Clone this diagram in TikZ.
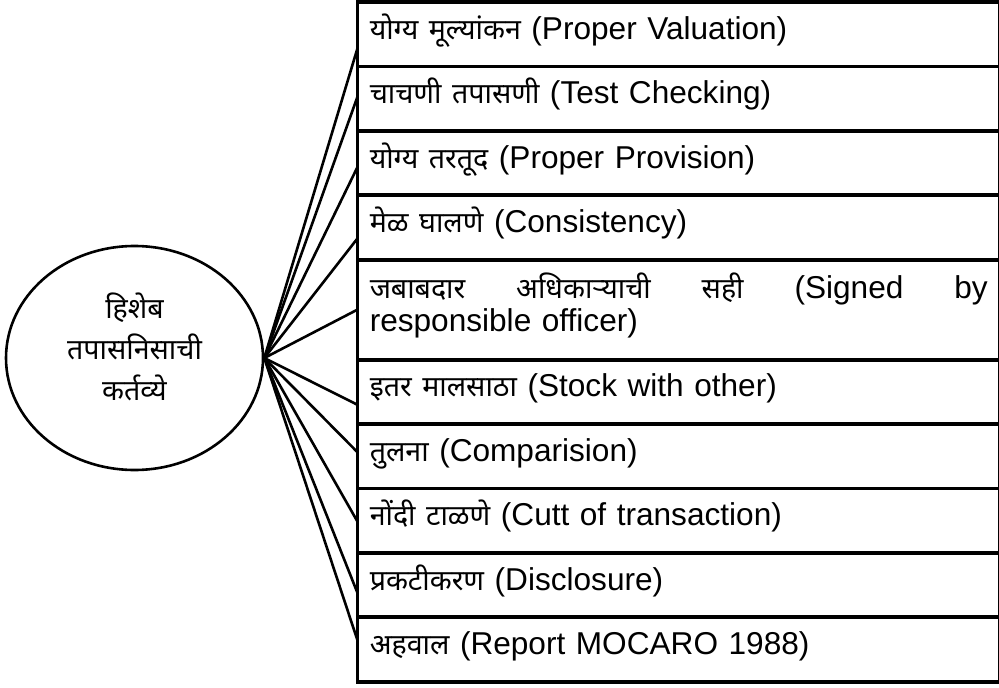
\documentclass[tikz,border=0pt]{standalone}
\usepackage{fontspec}
\setmainfont{Liberation Sans}
\newfontfamily\mr[Script=Devanagari, Scale=0.905]{Noto Sans}
\usetikzlibrary{shapes,arrows,positioning}

\begin{document}
\begin{tikzpicture}[x=1pt, y=1pt, node distance=64.4pt, font=\fontsize{31.6}{32.5}\selectfont]

% alakzatok / styles
\tikzstyle{duty} = [rectangle, draw=black, line width=3.8pt, outer sep=0pt, minimum width=642.5pt, minimum height=64.4pt, text width=618pt, inner xsep=12.25pt, align=left, text height=20pt, text depth=10pt]
\tikzstyle{role} = [ellipse, draw=black, line width=2.6pt, minimum width=257pt, minimum height=224pt, inner sep=0pt, text width=170pt, align=center, text height=24pt, text depth=104pt, font=\mr\fontsize{31.6}{41}\selectfont]
\tikzstyle{link} = [line width=2.6pt]

\useasboundingbox (0,0) rectangle (999,-688);

% elemek / nodes
\node (auditor) [role] at (134.5,-358) {हिशेब\\तपासनिसाची\\कर्तव्ये};

\node (valuation) [duty, anchor=north west] at (357.5,-2) {{\mr योग्य मूल्यांकन} (Proper Valuation)};
\node (testing) [duty, below of=valuation] {{\mr चाचणी तपासणी} (Test Checking)};
\node (provision) [duty, below of=testing] {{\mr योग्य तरतूद} (Proper Provision)};
\node (consistency) [duty, below of=provision] {{\mr मेळ घालणे} (Consistency)};
\node (signed) [duty, below of=consistency, yshift=-17.8pt, minimum height=100pt, text depth=42pt] {\makebox[\linewidth]{{\mr जबाबदार}\hfill{\mr अधिकाऱ्याची}\hfill{\mr सही}\hfill(Signed\hfill by}\\responsible officer)};
\node (stock) [duty, below of=signed, yshift=-17.8pt] {{\mr इतर मालसाठा} (Stock with other)};
\node (comparison) [duty, below of=stock] {{\mr तुलना} (Comparision)};
\node (cutoff) [duty, below of=comparison] {{\mr नोंदी टाळणे} (Cutt of transaction)};
\node (disclosure) [duty, below of=cutoff] {{\mr प्रकटीकरण} (Disclosure)};
\node (report) [duty, below of=disclosure] {{\mr अहवाल} (Report MOCARO 1988)};

% vonalak / connectors
\draw [link] (auditor.east) -- ([yshift=-14pt]valuation.west);
\draw [link] (auditor.east) -- ([yshift=2pt]testing.west);
\draw [link] (auditor.east) -- ([yshift=-4pt]provision.west);
\draw [link] (auditor.east) -- ([yshift=-11pt]consistency.west);
\draw [link] (auditor.east) -- (signed.west);
\draw [link] (auditor.east) -- ([yshift=-13pt]stock.west);
\draw [link] (auditor.east) -- ([yshift=4pt]comparison.west);
\draw [link] (auditor.east) -- ([yshift=-1pt]cutoff.west);
\draw [link] (auditor.east) -- ([yshift=-8pt]disclosure.west);
\draw [link] (auditor.east) -- ([yshift=9pt]report.west);
\end{tikzpicture}
\end{document}
